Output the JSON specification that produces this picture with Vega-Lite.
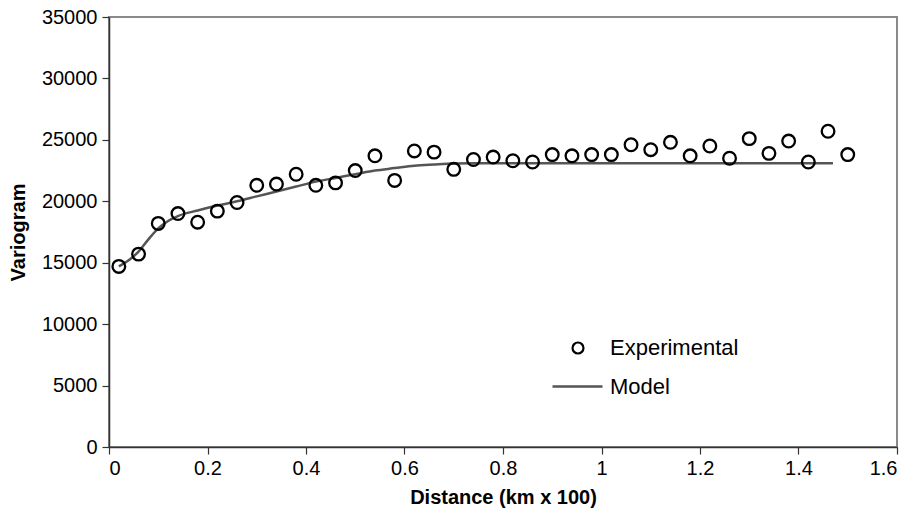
{
  "$schema": "https://vega.github.io/schema/vega-lite/v6.json",
  "autosize": "none",
  "width": 788,
  "height": 430,
  "padding": {"left": 109, "top": 17, "right": 17, "bottom": 69},
  "background": "white",
  "datasets": {
    "experimental": [
      {"d": 0.02, "v": 14700, "series": "Experimental"},
      {"d": 0.06, "v": 15700, "series": "Experimental"},
      {"d": 0.10, "v": 18200, "series": "Experimental"},
      {"d": 0.14, "v": 19000, "series": "Experimental"},
      {"d": 0.18, "v": 18300, "series": "Experimental"},
      {"d": 0.22, "v": 19200, "series": "Experimental"},
      {"d": 0.26, "v": 19900, "series": "Experimental"},
      {"d": 0.30, "v": 21300, "series": "Experimental"},
      {"d": 0.34, "v": 21400, "series": "Experimental"},
      {"d": 0.38, "v": 22200, "series": "Experimental"},
      {"d": 0.42, "v": 21300, "series": "Experimental"},
      {"d": 0.46, "v": 21500, "series": "Experimental"},
      {"d": 0.50, "v": 22500, "series": "Experimental"},
      {"d": 0.54, "v": 23700, "series": "Experimental"},
      {"d": 0.58, "v": 21700, "series": "Experimental"},
      {"d": 0.62, "v": 24100, "series": "Experimental"},
      {"d": 0.66, "v": 24000, "series": "Experimental"},
      {"d": 0.70, "v": 22600, "series": "Experimental"},
      {"d": 0.74, "v": 23400, "series": "Experimental"},
      {"d": 0.78, "v": 23600, "series": "Experimental"},
      {"d": 0.82, "v": 23300, "series": "Experimental"},
      {"d": 0.86, "v": 23200, "series": "Experimental"},
      {"d": 0.90, "v": 23800, "series": "Experimental"},
      {"d": 0.94, "v": 23700, "series": "Experimental"},
      {"d": 0.98, "v": 23800, "series": "Experimental"},
      {"d": 1.02, "v": 23800, "series": "Experimental"},
      {"d": 1.06, "v": 24600, "series": "Experimental"},
      {"d": 1.10, "v": 24200, "series": "Experimental"},
      {"d": 1.14, "v": 24800, "series": "Experimental"},
      {"d": 1.18, "v": 23700, "series": "Experimental"},
      {"d": 1.22, "v": 24500, "series": "Experimental"},
      {"d": 1.26, "v": 23500, "series": "Experimental"},
      {"d": 1.30, "v": 25100, "series": "Experimental"},
      {"d": 1.34, "v": 23900, "series": "Experimental"},
      {"d": 1.38, "v": 24900, "series": "Experimental"},
      {"d": 1.42, "v": 23200, "series": "Experimental"},
      {"d": 1.46, "v": 25700, "series": "Experimental"},
      {"d": 1.50, "v": 23800, "series": "Experimental"}
    ],
    "model": [
      {"d": 0.02, "v": 14700, "series": "Model"},
      {"d": 0.04, "v": 15200, "series": "Model"},
      {"d": 0.06, "v": 15900, "series": "Model"},
      {"d": 0.08, "v": 16900, "series": "Model"},
      {"d": 0.10, "v": 17800, "series": "Model"},
      {"d": 0.12, "v": 18400, "series": "Model"},
      {"d": 0.14, "v": 18800, "series": "Model"},
      {"d": 0.18, "v": 19250, "series": "Model"},
      {"d": 0.22, "v": 19650, "series": "Model"},
      {"d": 0.26, "v": 20000, "series": "Model"},
      {"d": 0.30, "v": 20400, "series": "Model"},
      {"d": 0.34, "v": 20800, "series": "Model"},
      {"d": 0.38, "v": 21200, "series": "Model"},
      {"d": 0.42, "v": 21600, "series": "Model"},
      {"d": 0.46, "v": 21900, "series": "Model"},
      {"d": 0.50, "v": 22200, "series": "Model"},
      {"d": 0.54, "v": 22500, "series": "Model"},
      {"d": 0.58, "v": 22700, "series": "Model"},
      {"d": 0.62, "v": 22900, "series": "Model"},
      {"d": 0.66, "v": 23000, "series": "Model"},
      {"d": 0.70, "v": 23080, "series": "Model"},
      {"d": 0.74, "v": 23100, "series": "Model"},
      {"d": 1.47, "v": 23100, "series": "Model"}
    ]
  },
  "config": {
    "font": "Liberation Sans",
    "view": {"stroke": "#8a8a8a", "strokeWidth": 2},
    "axis": {
      "domainColor": "#333333",
      "domainWidth": 1.5,
      "tickColor": "#333333",
      "tickWidth": 1.2,
      "tickSize": 7,
      "grid": false,
      "labelFont": "Liberation Sans",
      "labelFontSize": 20,
      "labelColor": "black",
      "titleFont": "Liberation Sans",
      "titleFontSize": 20,
      "titleFontWeight": "bold",
      "titleColor": "black"
    },
    "legend": {
      "labelFont": "Liberation Sans",
      "labelFontSize": 22,
      "labelColor": "black",
      "padding": 0
    }
  },
  "layer": [
    {
      "data": {"name": "model"},
      "mark": {"type": "line", "strokeWidth": 2.5, "interpolate": "monotone"},
      "encoding": {
        "x": {
          "field": "d",
          "type": "quantitative",
          "scale": {"domain": [0, 1.6], "nice": false},
          "axis": {
            "title": "Distance (km x 100)",
            "values": [0, 0.2, 0.4, 0.6, 0.8, 1, 1.2, 1.4, 1.6],
            "format": "~g",
            "labelPadding": 4,
            "titlePadding": 9
          }
        },
        "y": {
          "field": "v",
          "type": "quantitative",
          "scale": {"domain": [0, 35000], "nice": false},
          "axis": {
            "title": "Variogram",
            "values": [0, 5000, 10000, 15000, 20000, 25000, 30000, 35000],
            "format": "d",
            "labelPadding": 5,
            "titleX": -81
          }
        },
        "color": {
          "field": "series",
          "type": "nominal",
          "scale": {"domain": ["Model"], "range": ["#555555"]},
          "legend": {
            "title": null,
            "orient": "none",
            "legendX": 442,
            "legendY": 343,
            "symbolType": "stroke",
            "symbolSize": 2500,
            "symbolStrokeWidth": 2.5,
            "labelOffset": 6
          }
        }
      }
    },
    {
      "data": {"name": "experimental"},
      "mark": {"type": "point", "filled": false, "color": "black", "size": 160, "strokeWidth": 2.3, "opacity": 1},
      "encoding": {
        "x": {"field": "d", "type": "quantitative"},
        "y": {"field": "v", "type": "quantitative"},
        "shape": {
          "field": "series",
          "type": "nominal",
          "scale": {"domain": ["Experimental"], "range": ["circle"]},
          "legend": {
            "title": null,
            "orient": "none",
            "legendX": 458,
            "legendY": 320,
            "symbolSize": 120,
            "symbolStrokeWidth": 2.2,
            "symbolStrokeColor": "black",
            "symbolFillColor": "transparent",
            "labelOffset": 21
          }
        }
      }
    }
  ]
}
